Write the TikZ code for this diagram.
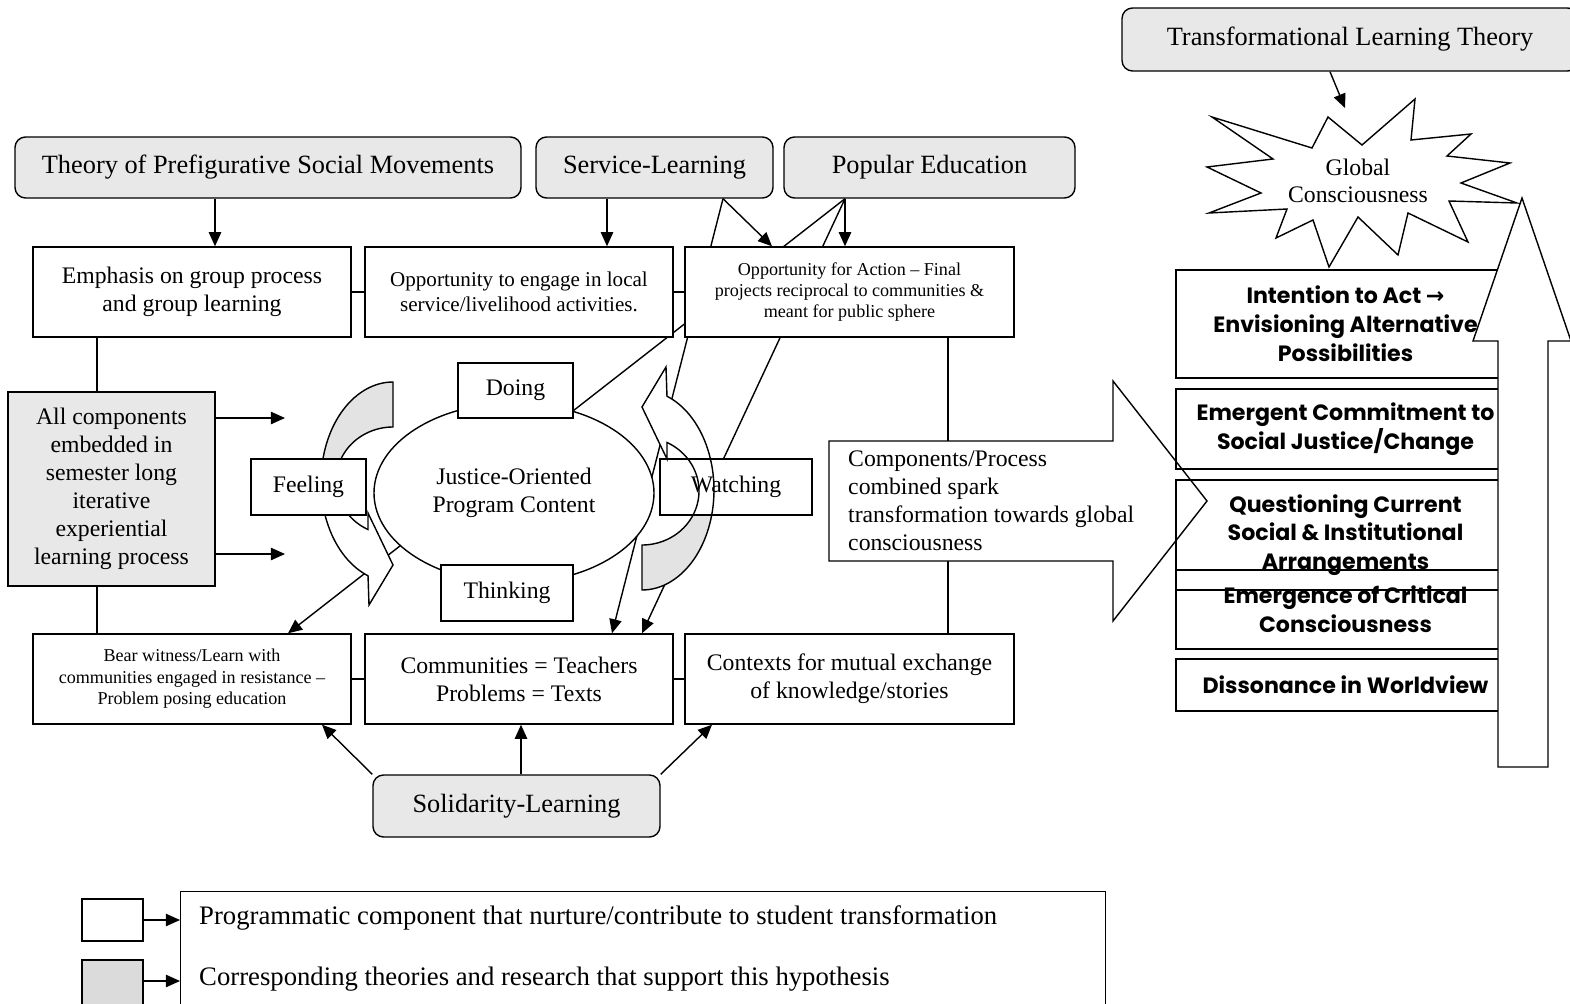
\documentclass[tikz,border=0pt]{standalone}
\usepackage{fontspec}
\setmainfont{Liberation Serif}
\newfontfamily\gothic{Poppins}
\newfontfamily\symb{DejaVu Sans}
\usetikzlibrary{arrows.meta,shapes.geometric,backgrounds}

\tikzset{
  theory/.style={draw,rounded corners=6pt,fill=gray!18,font=\fontsize{15}{17}\selectfont},
  comp/.style={draw,fill=white,align=center,font=\fontsize{13.5}{15.9}\selectfont},
  smallcomp/.style={comp,font=\fontsize{10.3}{12.2}\selectfont},
  stage/.style={draw,align=center,font=\gothic\bfseries\fontsize{12.6}{16.4}\selectfont},
  arr/.style={-{Triangle[length=8pt,width=7pt]}},
  sz/.style 2 args={minimum width=#1*0.02cm,minimum height=#2*0.02cm},
  loopback/.style={fill=gray!22},
}

\begin{document}
\begin{tikzpicture}[x=0.02cm,y=-0.02cm,line width=0.8pt,every node/.style={inner sep=2pt}]
  \useasboundingbox (0,0) rectangle (1570,1004);
  \clip (0,0) rectangle (1570,1004);

  % theories
  \node[theory,sz={456}{63}] (tlt) at (1350,39.5) {Transformational Learning Theory};
  \node[theory,sz={506}{61}] (pre) at (268,167.5) {Theory of Prefigurative Social Movements};
  \node[theory,sz={237}{61}] (serv) at (654.5,167.5) {Service-Learning};
  \node[theory,sz={291}{61}] (pop) at (929.5,167.5) {Popular Education};
  \node[theory,sz={287}{62}] (sol) at (516.5,806) {Solidarity-Learning};

  % spark arrow
  \draw[fill=white] (829,441) -- (1113,441) -- (1113,381) -- (1207,501) -- (1113,621) -- (1113,561) -- (829,561) -- cycle;
  \node[anchor=west,align=left,font=\fontsize{13.5}{15.9}\selectfont] (spark) at (844,501)
    {Components/Process\\combined spark\\transformation towards global\\consciousness};

  % programme components
  \node[comp,sz={318}{90}] (emph) at (192,292) {Emphasis on group process\\and group learning};
  \node[comp,sz={308}{90},font=\fontsize{12}{14.2}\selectfont] (local) at (519,292) {Opportunity to engage in local\\service/livelihood activities.};
  \node[smallcomp,sz={329}{90}] (action) at (849.5,292) {Opportunity for Action -- Final\\projects reciprocal to communities \&\\meant for public sphere};
  \node[smallcomp,sz={318}{90}] (bear) at (192,679) {Bear witness/Learn with\\communities engaged in resistance --\\Problem posing education};
  \node[comp,sz={308}{90}] (comm) at (519,679) {Communities = Teachers\\Problems = Texts};
  \node[comp,sz={329}{90}] (ctx) at (849.5,679) {Contexts for mutual exchange\\of knowledge/stories};
  \node[comp,fill=gray!18,sz={207}{194}] (allc) at (111.5,489) {All components\\embedded in\\semester long\\iterative\\experiential\\learning process};

  \node[draw,ellipse,fill=white,sz={280}{180},font=\fontsize{13.5}{15.9}\selectfont,align=center] (prog) at (514,493) {Justice-Oriented\\Program Content};
  \node[comp,sz={115}{55}] (doing) at (515.5,390.5) {Doing};
  \node[comp,sz={132}{56}] (think) at (507,593) {Thinking};

  % loop arrows
  \fill[loopback] plot[samples=40,domain=270:180] ({393+72*cos(\x)},{482+100*sin(\x)})
    -- plot[samples=40,domain=180:270] ({393+57*cos(\x)},{481+54*sin(\x)}) -- cycle;
  \fill[white] plot[samples=40,domain=180:110.3] ({393+72*cos(\x)},{482+100*sin(\x)})
    -- (369,605) -- (393,565) -- (368,513)
    -- plot[samples=40,domain=116:180] ({393+57*cos(\x)},{481+54*sin(\x)}) -- cycle;
  \draw plot[samples=60,domain=270:110.3] ({393+72*cos(\x)},{482+100*sin(\x)})
    -- (369,605) -- (393,565) -- (368,513)
    -- plot[samples=60,domain=116:270] ({393+57*cos(\x)},{481+54*sin(\x)}) -- cycle;
  \node[comp,sz={115}{56}] (feel) at (308.5,487) {Feeling};

  \begin{scope}[rotate around={180:(517.5,486)}]
    \fill[loopback] plot[samples=40,domain=270:180] ({393+72*cos(\x)},{482+100*sin(\x)})
      -- plot[samples=40,domain=180:270] ({393+57*cos(\x)},{481+54*sin(\x)}) -- cycle;
    \fill[white] plot[samples=40,domain=180:110.3] ({393+72*cos(\x)},{482+100*sin(\x)})
      -- (369,605) -- (393,565) -- (368,513)
      -- plot[samples=40,domain=116:180] ({393+57*cos(\x)},{481+54*sin(\x)}) -- cycle;
  \end{scope}
  \node[comp,sz={152}{56}] (watch) at (736,487) {Watching};
  \begin{scope}[rotate around={180:(517.5,486)}]
    \draw plot[samples=60,domain=270:110.3] ({393+72*cos(\x)},{482+100*sin(\x)})
      -- (369,605) -- (393,565) -- (368,513)
      -- plot[samples=60,domain=116:270] ({393+57*cos(\x)},{481+54*sin(\x)}) -- cycle;
  \end{scope}

  % connectors
  \draw[arr] (pre.south -| 215,0) -- (emph.north -| 215,0);
  \draw[arr] (serv.south -| 607,0) -- (local.north -| 607,0);
  \draw[arr] (serv.south -| 723,0) -- (action.north -| 772,0);
  \draw[arr] (pop.south -| 845,0) -- (action.north -| 845,0);
  \draw (emph.east) -- (local.west);
  \draw (local.east) -- (action.west);
  \draw (bear.east) -- (comm.west);
  \draw (comm.east) -- (ctx.west);
  \coordinate (in1) at (285,418);
  \coordinate (in2) at (285,554);
  \draw[arr] (allc.east |- in1) -- (in1);
  \draw[arr] (allc.east |- in2) -- (in2);
  \draw[arr] (sol.north west) -- (bear.south -| 322,0);
  \draw[arr] (sol.north -| 521,0) -- (comm.south -| 521,0);
  \draw[arr] (sol.north east) -- (ctx.south -| 712,0);

  % stages (right part runs under the big arrow)
  \node[stage,sz={339}{108}] (s1) at (1345.5,324) {Intention to Act {\symb\bfseries →}\\Envisioning Alternative\\Possibilities};
  \node[stage,sz={339}{80}] (s2) at (1345.5,429) {Emergent Commitment to\\Social Justice/Change};
  \node[stage,sz={339}{110}] (s3) at (1345.5,535) {Questioning Current\\Social \& Institutional\\Arrangements};
  \node[stage,sz={339}{79}] (s4) at (1345.5,609.5) {Emergence of Critical\\Consciousness};
  \node[stage,sz={339}{52}] (s5) at (1345.5,685) {Dissonance in Worldview};
  \draw[fill=white] (1498,767) -- (1548,767) -- (1548,341) -- (1571,341) -- (1522,198) -- (1473,341) -- (1498,341) -- cycle;

  % global consciousness
  \draw[fill=white] (1212,117) -- (1312,148) -- (1328,117) -- (1362,145) -- (1415,99) -- (1411,140)
    -- (1471,134) -- (1447,156) -- (1510,163) -- (1461,183) -- (1517,203) -- (1449,201) -- (1468,242)
    -- (1408,213) -- (1398,255) -- (1358,217) -- (1329,267) -- (1313,220) -- (1276,238) -- (1287,209)
    -- (1209,213) -- (1261,193) -- (1207,167) -- (1273,159) -- cycle;
  \node[align=center,font=\fontsize{13.5}{15.3}\selectfont] (glob) at (1358,181) {Global\\Consciousness};
  \coordinate (burst) at (1345,108);
  \draw[arr] (tlt.south -| 1330,0) -- (burst);

  % legend
  \node[draw,sz={925}{140},anchor=north west] (lg) at (180,891) {};
  \node[draw,fill=white,sz={61}{42}] (lgw) at (112.5,920) {};
  \node[draw,fill=gray!28,sz={61}{46}] (lgg) at (112.5,983) {};
  \draw[arr] (lgw.east) -- (lgw.east -| lg.west);
  \draw[arr] (lgg.east |- 0,981) -- (lg.west |- 0,981);
  \node[anchor=west,font=\fontsize{15.2}{17}\selectfont] (lgt1) at (195,918) {Programmatic component that nurture/contribute to student transformation};
  \node[anchor=west,font=\fontsize{15.2}{17}\selectfont] (lgt2) at (195,979) {Corresponding theories and research that support this hypothesis};

  % lines passing behind
  \begin{pgfonlayer}{background}
    \begin{scope}[line width=0.8pt]
      \draw[arr] (serv.south -| 723,0) -- (comm.north -| 612,0);
      \draw[arr] (pop.south -| 845,0) -- (comm.north -| 642,0);
      \draw[arr] (pop.south -| 845,0) -- (bear.north -| 288,0);
      \draw (emph.south -| 97,0) -- (allc.north -| 97,0);
      \draw (allc.south -| 97,0) -- (bear.north -| 97,0);
      \draw (action.south -| 948,0) -- (ctx.north -| 948,0);
    \end{scope}
  \end{pgfonlayer}
\end{tikzpicture}
\end{document}
